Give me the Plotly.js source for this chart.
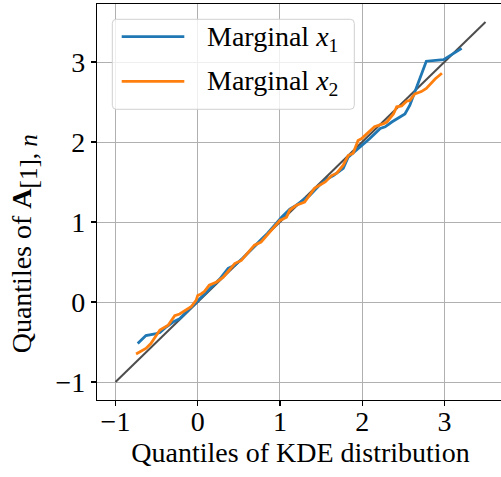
<!DOCTYPE html>
<html>
<head>
<meta charset="utf-8">
<script src="https://cdn.plot.ly/plotly-3.0.1.min.js"></script>
<style>
html,body{margin:0;padding:0;overflow:hidden;background:#fff;width:501px;height:477px;}
#plot{width:510px;height:477px;}
</style>
</head>
<body>
<div id="plot"></div>
<script>
// Q-Q data: quantiles of KDE distribution (x) vs quantiles of A_[1],n (y)
const x1_kde = [-0.73,-0.63,-0.52,-0.46,-0.38,-0.30,-0.22,-0.14,-0.04,0.04,0.12,0.19,0.27,0.37,0.45,0.55,0.65,0.75,0.85,0.95,1.02,1.12,1.20,1.30,1.36,1.48,1.56,1.65,1.77,1.83,1.91,1.99,2.09,2.22,2.28,2.36,2.44,2.52,2.58,2.64,2.78,2.99,3.21];
const x1_sample = [-0.52,-0.42,-0.40,-0.38,-0.31,-0.25,-0.21,-0.13,-0.02,0.06,0.13,0.21,0.29,0.42,0.46,0.55,0.66,0.76,0.86,0.98,1.06,1.16,1.21,1.29,1.33,1.46,1.53,1.58,1.67,1.81,1.88,1.96,2.04,2.17,2.19,2.25,2.30,2.35,2.46,2.63,3.01,3.03,3.17];

const x2_kde = [-0.75,-0.63,-0.57,-0.46,-0.36,-0.28,-0.22,-0.14,-0.08,-0.02,0.00,0.04,0.08,0.14,0.23,0.31,0.39,0.45,0.53,0.61,0.69,0.77,0.84,0.92,1.00,1.08,1.12,1.20,1.30,1.42,1.55,1.63,1.69,1.77,1.83,1.89,1.95,1.99,2.09,2.15,2.26,2.30,2.38,2.42,2.48,2.54,2.58,2.64,2.72,2.78,2.89,2.97];
const x2_sample = [-0.65,-0.58,-0.52,-0.35,-0.29,-0.17,-0.15,-0.10,-0.06,0.02,0.08,0.10,0.13,0.21,0.25,0.31,0.40,0.48,0.52,0.62,0.71,0.75,0.83,0.92,1.02,1.06,1.15,1.21,1.25,1.42,1.50,1.58,1.61,1.71,1.83,1.86,2.02,2.04,2.13,2.19,2.23,2.25,2.35,2.44,2.45,2.51,2.52,2.60,2.63,2.67,2.79,2.86];

const refLine = [-1, 3.5];

const seriesNames = ['Marginal <i>x</i><sub>1</sub>', 'Marginal <i>x</i><sub>2</sub>'];
const seriesColors = ['#1f77b4', '#ff7f0e'];
const tickVals = [-1, 0, 1, 2, 3];
const xTitle = 'Quantiles of KDE distribution';
const yTitle = 'Quantiles of <b>A</b><sub><span style="font-size:25px">[1],\u00a0<i>n</i></span></sub>';

const FONT = '"Liberation Serif", "Times New Roman", serif';
const FS = 28;

const traces = [
  {x: refLine, y: refLine, mode: 'lines', line: {color: '#4d4d4d', width: 2}, showlegend: false, hoverinfo: 'skip'},
  {x: x1_kde, y: x1_sample, mode: 'lines', name: seriesNames[0], line: {color: seriesColors[0], width: 2.8}},
  {x: x2_kde, y: x2_sample, mode: 'lines', name: seriesNames[1], line: {color: seriesColors[1], width: 2.8}}
];

const axisCommon = {
  tickvals: tickVals,
  showgrid: true, gridcolor: '#b0b0b0', gridwidth: 1,
  zeroline: false,
  showline: true, linecolor: '#000', linewidth: 1.2, mirror: true,
  ticks: 'outside', ticklen: 5, tickwidth: 1.2, tickcolor: '#000',
  tickfont: {family: FONT, size: FS, color: '#000'}
};

// legend box (paper coords), drawn like matplotlib's rounded legend frame
const L = {x0: 0.0376, x1: 0.6322, y0: 0.7341, y1: 0.9614, rx: 0.0098, ry: 0.0101};
const boxPath = `M ${L.x0 + L.rx} ${L.y1} L ${L.x1 - L.rx} ${L.y1} Q ${L.x1} ${L.y1} ${L.x1} ${L.y1 - L.ry} ` +
  `L ${L.x1} ${L.y0 + L.ry} Q ${L.x1} ${L.y0} ${L.x1 - L.rx} ${L.y0} L ${L.x0 + L.rx} ${L.y0} ` +
  `Q ${L.x0} ${L.y0} ${L.x0} ${L.y0 + L.ry} L ${L.x0} ${L.y1 - L.ry} Q ${L.x0} ${L.y1} ${L.x0 + L.rx} ${L.y1} Z`;
const rowY = [0.9174, 0.8048];

const shapes = [{type: 'path', xref: 'paper', yref: 'paper', path: boxPath,
  fillcolor: 'rgba(255,255,255,0.8)', line: {color: '#d0d0d0', width: 1}, layer: 'above'}];
const annotations = [];
seriesNames.forEach((nm, i) => {
  shapes.push({type: 'line', xref: 'paper', yref: 'paper', x0: 0.0607, x1: 0.2145, y0: rowY[i], y1: rowY[i],
    line: {color: seriesColors[i], width: 2.8}, layer: 'above'});
  annotations.push({xref: 'paper', yref: 'paper', x: 0.2654, y: rowY[i] - 0.004, xanchor: 'left', yanchor: 'middle',
    text: nm, showarrow: false, font: {family: FONT, size: FS, color: '#000'}});
});
// y-axis title, placed as a rotated annotation left of the tick labels
annotations.push({xref: 'paper', yref: 'paper', x: -0.180, y: 0.395, xanchor: 'center', yanchor: 'middle',
  textangle: -90, text: yTitle, showarrow: false, font: {family: FONT, size: FS, color: '#000'}});

const layout = {
  width: 510, height: 477,
  margin: {l: 97, r: 6, t: 4, b: 77},
  paper_bgcolor: '#fff', plot_bgcolor: '#fff',
  font: {family: FONT, color: '#000'},
  xaxis: Object.assign({}, axisCommon, {
    range: [-1.225, 3.725],
    ticklabelstandoff: -9,
    title: {text: xTitle, font: {family: FONT, size: FS, color: '#000'}, standoff: 0}
  }),
  yaxis: Object.assign({}, axisCommon, {
    range: [-1.225, 3.725]
  }),
  shapes: shapes,
  annotations: annotations,
  showlegend: false
};

Plotly.newPlot('plot', traces, layout, {displayModeBar: false, staticPlot: true});
</script>
</body>
</html>
